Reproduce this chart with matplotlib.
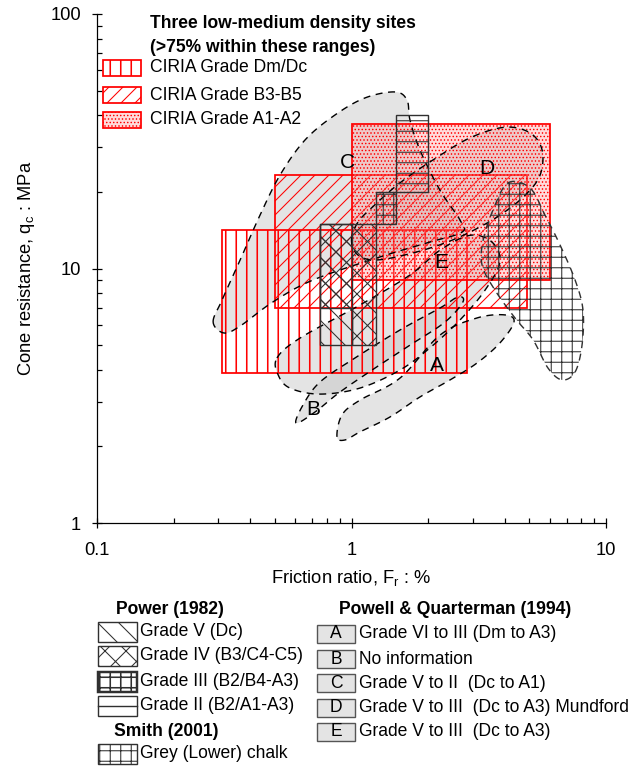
import numpy as np
import matplotlib
matplotlib.use("Agg")
import matplotlib.pyplot as plt
from matplotlib.patches import Rectangle, Polygon
from matplotlib.lines import Line2D
from matplotlib.ticker import FixedLocator, FixedFormatter, LogLocator, NullFormatter

plt.rcParams['font.family'] = ['Liberation Sans', 'DejaVu Sans']
plt.rcParams['mathtext.default'] = 'regular'
plt.rcParams['hatch.linewidth'] = 0.6

# ---------------- data ----------------
x_ticks = [0.1, 1, 10]
x_tick_labels = ["0.1", "1", "10"]
y_ticks = [1, 10, 100]
y_tick_labels = ["1", "10", "100"]

ciria_title = ["Three low-medium density sites", "(>75% within these ranges)"]
ciria_labels = ["CIRIA Grade Dm/Dc", "CIRIA Grade B3-B5", "CIRIA Grade A1-A2"]
ciria_fr_min = [0.31, 0.50, 1.00]
ciria_fr_max = [2.85, 4.90, 6.00]
ciria_qc_min = [3.9, 7.0, 9.0]
ciria_qc_max = [14.2, 23.3, 37.0]

power_title = "Power (1982)"
power_labels = ["Grade V (Dc)", "Grade IV (B3/C4-C5)", "Grade III (B2/B4-A3)", "Grade II (B2/A1-A3)"]
grade_V_fr = [0.75, 1.0, 1.0, 0.75]
grade_V_qc = [5, 5, 15, 15]
grade_IV_fr = [0.75, 1.25, 1.25, 1.0, 1.0, 0.75]
grade_IV_qc = [15, 15, 5, 5, 7, 7]
grade_III_fr = [1.25, 1.5, 1.5, 1.25]
grade_III_qc = [15, 15, 20, 20]
grade_II_fr = [1.5, 2.0, 2.0, 1.5]
grade_II_qc = [20, 20, 40, 40]

smith_title = "Smith (2001)"
smith_label = "Grey (Lower) chalk"
smith_fr = [4.12, 5.03, 5.76, 6.59, 7.56, 8.12, 8.05, 7.56, 6.72, 5.92, 5.17, 4.39, 3.66, 3.26, 3.29, 3.60]
smith_qc = [21.7, 20.7, 16.2, 12.4, 9.01, 6.87, 5.00, 3.92, 3.65, 4.06, 5.24, 6.39, 8.23, 10.3, 12.9, 17.0]

pq_title = "Powell & Quarterman (1994)"
pq_letters = ["A", "B", "C", "D", "E"]
pq_labels = ["Grade VI to III (Dm to A3)", "No information", "Grade V to II  (Dc to A1)",
             "Grade V to III  (Dc to A3) Mundford", "Grade V to III  (Dc to A3)"]

zone_A_fr = [0.877, 0.918, 1.08, 1.55, 2.23, 3.11, 4.01, 4.35, 3.83, 3.11, 2.44, 1.86, 1.417, 1.08, 0.943]
zone_A_qc = [2.18, 2.66, 3.04, 3.71, 5.48, 6.39, 6.57, 6.16, 5.10, 4.25, 3.65, 3.13, 2.61, 2.28, 2.12]

zone_B_fr = [0.606, 0.645, 0.752, 1.032, 1.55, 2.23, 2.62, 2.74, 2.33, 1.698, 1.236, 0.901, 0.719]
zone_B_qc = [2.47, 2.91, 3.58, 4.45, 5.73, 7.00, 7.73, 7.39, 6.16, 5.00, 4.06, 3.27, 2.73]

zone_C_fr = [0.286, 0.310, 0.365, 0.437, 0.524, 0.657, 0.861, 1.13, 1.48, 1.652, 1.698, 1.858,
             2.227, 2.669, 2.72, 2.03, 1.294, 0.706, 0.4915, 0.365, 0.3155]
zone_C_qc = [6.16, 7.52, 10.8, 16.2, 23.3, 32.0, 40.1, 46.8, 49.4, 45.9, 38.3, 29.2,
             20.3, 15.5, 13.9, 12.7, 11.1, 9.01, 7.39, 5.94, 5.58]

zone_D_fr = [1.0, 1.06, 1.236, 1.55, 2.09, 2.92, 4.01, 5.03, 5.61, 5.51, 4.81, 3.83, 2.92, 2.23, 1.62, 1.24, 1.06]
zone_D_qc = [12.9, 15.2, 17.8, 21.7, 26.7, 32.6, 35.9, 34.1, 29.2, 23.3, 19.4, 16.2, 13.9, 12.4, 11.3, 10.8, 11.3]

zone_E_fr = [0.5095, 0.628, 1.08, 1.698, 2.227, 2.92, 3.565, 3.83, 3.35, 2.67, 2.03, 1.55, 1.08, 0.752, 0.573, 0.515]
zone_E_qc = [4.45, 5.33, 7.19, 9.43, 11.8, 13.5, 12.7, 10.6, 8.23, 6.28, 4.87, 3.99, 3.39, 3.21, 3.39, 3.82]

zone_label_fr = [2.17, 0.706, 0.96, 3.41, 2.25]
zone_label_qc = [4.14, 2.78, 26.0, 24.8, 10.6]


def smooth_closed(fr, qc, n=24):
    P = np.column_stack([np.log10(fr), np.log10(qc)])
    m = len(P)
    t = np.linspace(0, 1, n, endpoint=False)[:, None]
    segs = []
    for i in range(m):
        p0, p1, p2, p3 = P[(i - 1) % m], P[i], P[(i + 1) % m], P[(i + 2) % m]
        segs.append(0.5 * ((2 * p1) + (-p0 + p2) * t + (2 * p0 - 5 * p1 + 4 * p2 - p3) * t ** 2
                           + (-p0 + 3 * p1 - 3 * p2 + p3) * t ** 3))
    out = np.vstack(segs)
    return np.column_stack([10 ** out[:, 0], 10 ** out[:, 1]])


def make_patch(cls, *args, hlw=0.6, **kw):
    with plt.rc_context({'hatch.linewidth': hlw}):
        return cls(*args, **kw)


W, H, DPI = 636, 767, 126
fig = plt.figure(figsize=(W / DPI, H / DPI), dpi=DPI)
ax = fig.add_axes([97 / W, 1 - 523 / H, 509 / W, 509 / H])
ax.set_xscale('log')
ax.set_yscale('log')
ax.set_xlim(0.1, 10)
ax.set_ylim(1, 100)

RED = '#ff0000'
DARK = '#303030'

# Powell & Quarterman zones: fills
zones = {"C": (zone_C_fr, zone_C_qc), "E": (zone_E_fr, zone_E_qc), "B": (zone_B_fr, zone_B_qc),
         "A": (zone_A_fr, zone_A_qc), "D": (zone_D_fr, zone_D_qc)}
for key, (fr, qc) in zones.items():
    ax.add_patch(Polygon(smooth_closed(fr, qc), closed=True, facecolor='#c4c4c4', alpha=0.45,
                         edgecolor='none', zorder=1))

# CIRIA rectangles
ciria_hatch = ['||', '///', '......']
ciria_face = ['none', 'none', (1.0, 0.6, 0.6, 0.35)]
ciria_hlw = [0.9, 0.6, 0.5]
for i in range(3):
    ax.add_patch(make_patch(Rectangle, (ciria_fr_min[i], ciria_qc_min[i]), ciria_fr_max[i] - ciria_fr_min[i],
                            ciria_qc_max[i] - ciria_qc_min[i], hlw=ciria_hlw[i], facecolor=ciria_face[i],
                            edgecolor=RED, hatch=ciria_hatch[i], lw=1.0, zorder=2))

# zone outlines
for key, (fr, qc) in zones.items():
    ax.add_patch(Polygon(smooth_closed(fr, qc), closed=True, fill=False, edgecolor='black',
                         lw=0.8, ls=(0, (5, 4)), zorder=3))

# Smith grey chalk
ax.add_patch(make_patch(Polygon, smooth_closed(smith_fr, smith_qc), closed=True, fill=False, edgecolor=DARK,
                        hatch='++', lw=0.8, ls=(0, (5, 4)), zorder=3, hlw=0.6))

# Power (1982)
power_geom = [(grade_V_fr, grade_V_qc, '\\\\'), (grade_IV_fr, grade_IV_qc, 'xx'),
              (grade_III_fr, grade_III_qc, '++'), (grade_II_fr, grade_II_qc, '--')]
for fr, qc, h in power_geom:
    ax.add_patch(make_patch(Polygon, np.column_stack([fr, qc]), closed=True, fill=False, edgecolor=DARK,
                            hatch=h, lw=0.8, zorder=4, hlw=0.6))

for lt, fr, qc in zip(pq_letters, zone_label_fr, zone_label_qc):
    ax.text(fr, qc, lt, fontsize=12, ha='center', va='center', zorder=5)

# axes styling
for s in ['top', 'right']:
    ax.spines[s].set_visible(False)
for s in ['left', 'bottom']:
    ax.spines[s].set_linewidth(0.7)
ax.xaxis.set_major_locator(FixedLocator(x_ticks))
ax.xaxis.set_major_formatter(FixedFormatter(x_tick_labels))
ax.yaxis.set_major_locator(FixedLocator(y_ticks))
ax.yaxis.set_major_formatter(FixedFormatter(y_tick_labels))
ax.xaxis.set_minor_locator(LogLocator(base=10, subs=np.arange(2, 10)))
ax.yaxis.set_minor_locator(LogLocator(base=10, subs=np.arange(2, 10)))
ax.xaxis.set_minor_formatter(NullFormatter())
ax.yaxis.set_minor_formatter(NullFormatter())
ax.tick_params(which='major', direction='inout', length=6, width=0.7, labelsize=10.5)
ax.tick_params(axis='x', which='major', pad=8)
ax.tick_params(axis='y', which='major', pad=6)
ax.tick_params(which='minor', direction='in', length=3, width=0.7)
ax.set_xlabel("Friction ratio, F$_{r}$ : %", fontsize=10.5, labelpad=5)
ax.set_ylabel("Cone resistance, q$_{c}$ : MPa", fontsize=10.5, labelpad=8)


# ---------------- legends (figure pixel layout) ----------------
def fx(px):
    return px / W


def fy(py):
    return 1 - py / H


def swatch(x0, y0, x1, y1, hlw=0.6, **kw):
    r = make_patch(Rectangle, (fx(x0), fy(y1)), fx(x1) - fx(x0), fy(y0) - fy(y1),
                   transform=fig.transFigure, hlw=hlw, **kw)
    fig.add_artist(r)
    return r


# CIRIA legend
fig.text(fx(150), fy(24), ciria_title[0], fontsize=10, fontweight='bold', va='center', ha='left')
fig.text(fx(150), fy(47), ciria_title[1], fontsize=10, fontweight='bold', va='center', ha='left')
for i, yc in enumerate([68, 95, 120]):
    swatch(103, yc - 8, 141, yc + 8, hlw=ciria_hlw[i], facecolor=ciria_face[i], edgecolor=RED,
           hatch=ciria_hatch[i], lw=1.0)
    fig.text(fx(150), fy(yc), ciria_labels[i], fontsize=10, va='center', ha='left')

# Power legend
fig.text(fx(170), fy(610), power_title, fontsize=10, fontweight='bold', va='center', ha='center')
p_hatch = ['\\\\', 'xx', '++', None]
for i, yc in enumerate([632, 656, 682, 706]):
    swatch(98, yc - 10, 137, yc + 10, hlw=0.9 if i == 2 else 0.6, fill=False, edgecolor=DARK,
           hatch=p_hatch[i], lw=1.4 if i == 2 else 0.8)
    fig.text(fx(140), fy(yc), power_labels[i], fontsize=10, va='center', ha='left')
fig.add_artist(Line2D([fx(98), fx(137)], [fy(706), fy(706)], color=DARK, lw=0.8, transform=fig.transFigure))

fig.text(fx(166), fy(731), smith_title, fontsize=10, fontweight='bold', va='center', ha='center')
swatch(98, 744, 137, 764, fill=False, edgecolor=DARK, hatch='++', lw=0.8)
fig.text(fx(140), fy(754), smith_label, fontsize=10, va='center', ha='left')

# Powell & Quarterman legend
fig.text(fx(455), fy(610), pq_title, fontsize=10, fontweight='bold', va='center', ha='center')
for i, yc in enumerate([634, 659, 683, 708, 732]):
    swatch(317, yc - 9, 355, yc + 9, facecolor='#e4e4e4', edgecolor='#555555', lw=0.8)
    fig.text(fx(336), fy(yc), pq_letters[i], fontsize=10, va='center', ha='center')
    fig.text(fx(359), fy(yc), pq_labels[i], fontsize=10, va='center', ha='left')

fig.savefig("out.png", dpi=DPI)
